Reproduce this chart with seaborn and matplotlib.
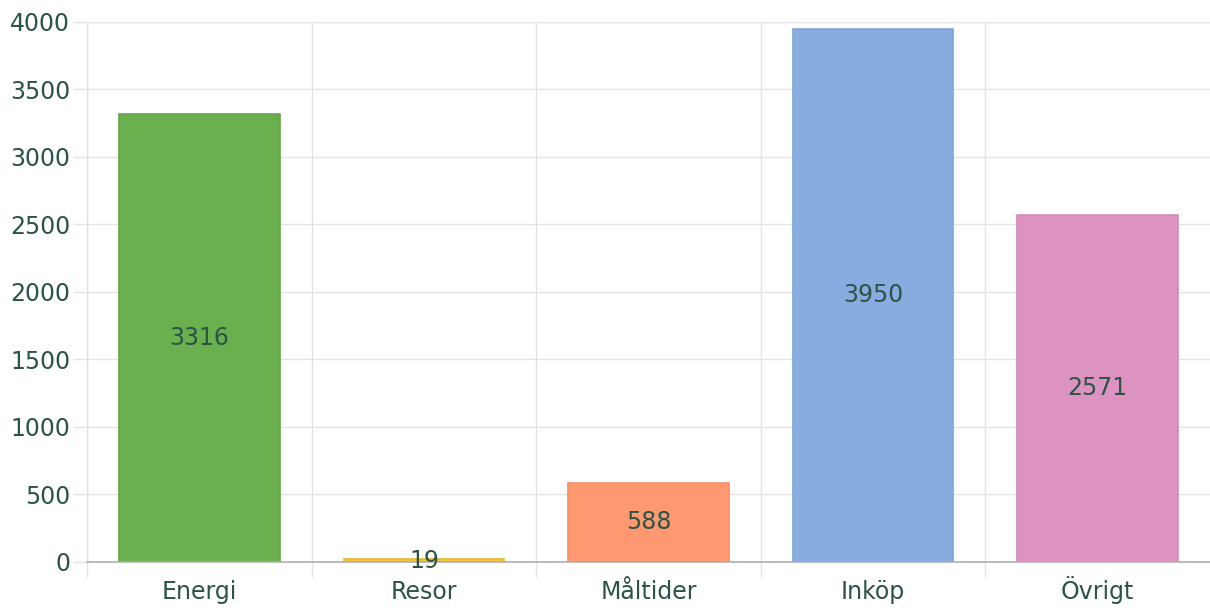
import matplotlib
matplotlib.use("Agg")
import matplotlib.pyplot as plt
import seaborn as sns
import numpy as np

# Data
categories = ['Energi', 'Resor', 'Måltider', 'Inköp', 'Övrigt']
values = [3316, 19, 588, 3950, 2571]
colors = ['#6ab04f', '#f2c33c', '#fd9870', '#88ace0', '#dd93c1']
edges = ['#62a848', '#eab830', '#f88e66', '#80a4d8', '#d68aba']
y_ticks = [0, 500, 1000, 1500, 2000, 2500, 3000, 3500, 4000]

TEXT = '#2b5444'
GRID = '#e4e4e4'

sns.set_theme(style="white")
plt.rcParams['font.family'] = 'sans-serif'
plt.rcParams['font.sans-serif'] = ['DejaVu Sans']

fig = plt.figure(figsize=(12.1, 6.1), dpi=100)
ax = fig.add_axes([0.0719, 0.0787, 0.9281, 0.8853])

sns.barplot(x=categories, y=values, hue=categories, palette=colors,
            width=0.715, legend=False, ax=ax, saturation=1)

for patch, c in zip(ax.patches, edges):
    patch.set_edgecolor(c)
    patch.set_linewidth(1.2)

for cont in ax.containers:
    ax.bar_label(cont, label_type='center', fontsize=17, color=TEXT)

# Axis range and ticks
ax.set_ylim(0, 4000)
ax.set_xlim(-0.5, len(categories) - 0.5)
ax.set_yticks(y_ticks)
ax.set_xticks(range(len(categories)))
ax.set_xticklabels(categories, va='baseline')
ax.set_xticks(np.arange(-0.5, len(categories) - 1, 1.0), minor=True)

ax.grid(axis='y', color=GRID, linewidth=1.0)
ax.grid(axis='x', which='minor', color=GRID, linewidth=1.0)
ax.set_axisbelow(True)

ax.tick_params(axis='x', which='major', length=0, pad=27, labelsize=17, labelcolor=TEXT)
ax.tick_params(axis='x', which='minor', bottom=True, length=11, width=1.0, color=GRID)
ax.tick_params(axis='y', left=True, length=10, width=1.0, color=GRID, pad=2, labelsize=17, labelcolor=TEXT)

for side in ['top', 'right']:
    ax.spines[side].set_visible(False)
ax.spines['left'].set_color(GRID)
ax.spines['left'].set_linewidth(1.0)
ax.spines['bottom'].set_color('#b0b0b0')
ax.spines['bottom'].set_linewidth(1.2)
ax.set_xlabel('')
ax.set_ylabel('')

fig.savefig('out.png', dpi=100)
